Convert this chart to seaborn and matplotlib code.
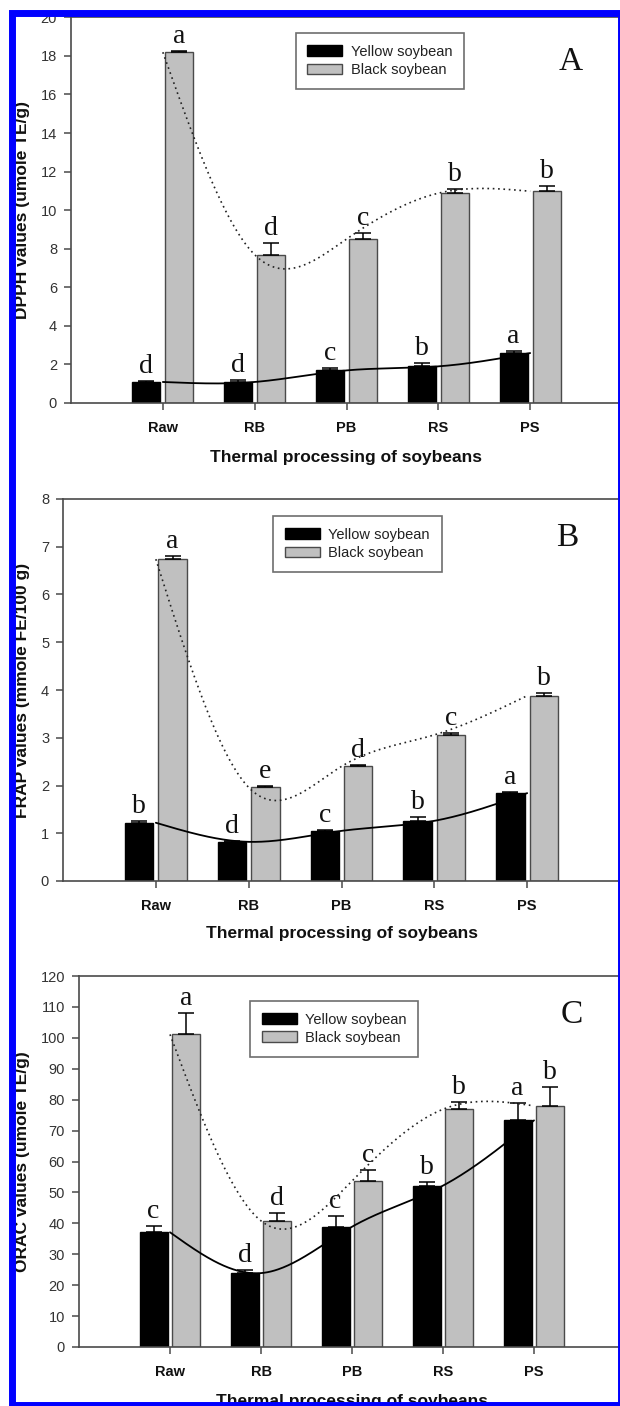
import numpy as np
import pandas as pd
import matplotlib
matplotlib.use("Agg")
import matplotlib.pyplot as plt
import seaborn as sns
from matplotlib.patches import Rectangle, Patch

# ---------------- data ----------------
categories = ["Raw", "RB", "PB", "RS", "PS"]
series = ["Yellow soybean", "Black soybean"]

dpph_yellow = [1.09, 1.09, 1.69, 1.90, 2.59]
dpph_yellow_err = [0.05, 0.08, 0.14, 0.16, 0.12]
dpph_black = [18.19, 7.69, 8.50, 10.88, 10.98]
dpph_black_err = [0.05, 0.60, 0.30, 0.20, 0.28]
dpph_yellow_letters = ["d", "d", "c", "b", "a"]
dpph_black_letters = ["a", "d", "c", "b", "b"]

frap_yellow = [1.22, 0.82, 1.05, 1.26, 1.84]
frap_yellow_err = [0.03, 0.02, 0.02, 0.09, 0.03]
frap_black = [6.74, 1.96, 2.40, 3.06, 3.88]
frap_black_err = [0.06, 0.04, 0.02, 0.04, 0.05]
frap_yellow_letters = ["b", "d", "c", "b", "a"]
frap_black_letters = ["a", "e", "d", "c", "b"]

orac_yellow = [37.1, 23.9, 38.9, 52.2, 73.3]
orac_yellow_err = [2.1, 1.1, 3.4, 1.2, 5.7]
orac_black = [101.1, 40.8, 53.7, 76.9, 78.0]
orac_black_err = [7.0, 2.6, 3.4, 2.3, 6.2]
orac_yellow_letters = ["c", "d", "c", "b", "a"]
orac_black_letters = ["a", "d", "c", "b", "b"]

ylabels = ["DPPH values (umole TE/g)", "FRAP values (mmole FE/100 g)", "ORAC values (umole TE/g)"]
panel_tags = ["A", "B", "C"]
xlabel = "Thermal processing of soybeans"
yticks_list = [np.arange(0, 21, 2), np.arange(0, 9, 1), np.arange(0, 121, 10)]

# ---------------- style ----------------
sns.set_style("ticks")
plt.rcParams["font.family"] = ["Liberation Sans", "DejaVu Sans"]
SERIF = ["Liberation Serif", "DejaVu Serif"]
SPINE = "#4a4a4a"
GRAY = "#c0c0c0"

W, H = 620, 1406
fig = plt.figure(figsize=(W / 100, H / 100), dpi=100)


def px_axes(left, right, top, bottom):
    return [left / W, 1 - bottom / H, (right - left) / W, (bottom - top) / H]


def natural_spline(x, y, xs):
    x = np.asarray(x, float)
    y = np.asarray(y, float)
    n = len(x)
    h = np.diff(x)
    A = np.zeros((n - 2, n - 2))
    rhs = np.zeros(n - 2)
    for i in range(1, n - 1):
        r = i - 1
        if r - 1 >= 0:
            A[r, r - 1] = h[i - 1]
        A[r, r] = 2 * (h[i - 1] + h[i])
        if r + 1 < n - 2:
            A[r, r + 1] = h[i]
        rhs[r] = 6 * ((y[i + 1] - y[i]) / h[i] - (y[i] - y[i - 1]) / h[i - 1])
    M = np.zeros(n)
    M[1:-1] = np.linalg.solve(A, rhs)
    out = np.empty_like(xs)
    for k, xv in enumerate(xs):
        i = min(max(np.searchsorted(x, xv) - 1, 0), n - 2)
        t1 = x[i + 1] - xv
        t0 = xv - x[i]
        out[k] = (M[i] * t1 ** 3 / (6 * h[i]) + M[i + 1] * t0 ** 3 / (6 * h[i])
                  + (y[i] / h[i] - M[i] * h[i] / 6) * t1
                  + (y[i + 1] / h[i] - M[i + 1] * h[i] / 6) * t0)
    return out


panels = [
    dict(rect=px_axes(71, 622, 17.3, 403), yel=dpph_yellow, yel_err=dpph_yellow_err,
         blk=dpph_black, blk_err=dpph_black_err, yl=dpph_yellow_letters, bl=dpph_black_letters,
         ylim=(0, 20), leg=(0.408, 0.959), tag=(0.907, 0.884), ylab_x=-0.074, xlab_y=-0.122),
    dict(rect=px_axes(63, 620, 499, 881), yel=frap_yellow, yel_err=frap_yellow_err,
         blk=frap_black, blk_err=frap_black_err, yl=frap_yellow_letters, bl=frap_black_letters,
         ylim=(0, 8), leg=(0.377, 0.955), tag=(0.905, 0.898), ylab_x=-0.059, xlab_y=-0.118),
    dict(rect=px_axes(79, 625, 976, 1347), yel=orac_yellow, yel_err=orac_yellow_err,
         blk=orac_black, blk_err=orac_black_err, yl=orac_yellow_letters, bl=orac_black_letters,
         ylim=(0, 120), leg=(0.313, 0.933), tag=(0.903, 0.895), ylab_x=-0.090, xlab_y=-0.126),
]

for k, p in enumerate(panels):
    ax = fig.add_axes(p["rect"])
    df = pd.DataFrame({
        "cat": categories * 2,
        "series": [series[0]] * 5 + [series[1]] * 5,
        "value": list(p["yel"]) + list(p["blk"]),
    })
    sns.barplot(data=df, x="cat", y="value", hue="series", order=categories,
                hue_order=series, palette={series[0]: "black", series[1]: GRAY},
                width=0.72, gap=0.15, errorbar=None, saturation=1, ax=ax,
                edgecolor=SPINE, linewidth=1.0, zorder=2)
    for patch in ax.containers[0]:
        patch.set_edgecolor("black")
    if ax.get_legend() is not None:
        ax.get_legend().remove()

    # error bars (upper only) and letters
    for cont, vals, errs, lets in [(ax.containers[0], p["yel"], p["yel_err"], p["yl"]),
                                   (ax.containers[1], p["blk"], p["blk_err"], p["bl"])]:
        xs = [b.get_x() + b.get_width() / 2 for b in cont]
        ax.errorbar(xs, vals, yerr=[np.zeros(len(errs)), errs], fmt="none",
                    ecolor="black", elinewidth=1.1, capsize=6, capthick=1.1, zorder=3)
        for xv, v, e, t in zip(xs, vals, errs, lets):
            ax.annotate(t, (xv, v + e), xytext=(0, 8), textcoords="offset pixels",
                        ha="center", va="baseline", fontsize=20, family=SERIF, color="#111111")

    # smooth trend curves through the means at category centres
    xpos = np.arange(len(categories), dtype=float)
    xx = np.linspace(0, len(categories) - 1, 300)
    ax.plot(xx, natural_spline(xpos, p["yel"], xx), color="black", lw=1.3, zorder=4)
    ax.plot(xx, natural_spline(xpos, p["blk"], xx), color="#222222", lw=1.2,
            linestyle=(0, (1, 2.2)), zorder=4)

    ax.set_xlim(-1, 5)
    ax.set_ylim(*p["ylim"])
    ax.set_yticks(yticks_list[k])
    for s in ax.spines.values():
        s.set_visible(True)
        s.set_color(SPINE)
        s.set_linewidth(1.2)
    ax.tick_params(axis="y", direction="out", length=5, width=1.1, color=SPINE,
                   labelsize=10.5, labelcolor="#333333", pad=5)
    ax.tick_params(axis="x", direction="out", length=5, width=1.1, color=SPINE,
                   labelsize=10.5, labelcolor="#111111", pad=8)
    for lab in ax.get_xticklabels():
        lab.set_fontweight("bold")
    ax.set_xlabel(xlabel, fontsize=12.5, fontweight="bold", color="#111111", va="top")
    ax.xaxis.set_label_coords(0.5, p["xlab_y"])
    ax.set_ylabel(ylabels[k], fontsize=12.5, fontweight="bold", color="#111111")
    ax.yaxis.set_label_coords(p["ylab_x"], 0.5)

    handles = [Patch(facecolor="black", edgecolor="black", lw=1.0),
               Patch(facecolor=GRAY, edgecolor=SPINE, lw=1.0)]
    leg = ax.legend(handles, series, loc="upper left", bbox_to_anchor=p["leg"],
                    frameon=True, fancybox=False, fontsize=10.5, handlelength=2.4,
                    handleheight=0.75, handletextpad=0.6, labelspacing=0.3,
                    borderpad=0.8, borderaxespad=0)
    leg.get_frame().set_edgecolor(SPINE)
    leg.get_frame().set_linewidth(1.2)
    for t in leg.get_texts():
        t.set_color("#222222")

    ax.text(p["tag"][0], p["tag"][1], panel_tags[k], transform=ax.transAxes,
            ha="center", va="center", fontsize=24, family=SERIF, color="#111111")

# blue frame around the figure
fig.add_artist(Rectangle((11.5 / W, 1 - 1405 / H), (621 - 11.5) / W, (1405 - 12.5) / H,
                         transform=fig.transFigure, fill=False, edgecolor="#0000ff",
                         lw=5.0, zorder=100))

fig.savefig("out.png", dpi=100)
